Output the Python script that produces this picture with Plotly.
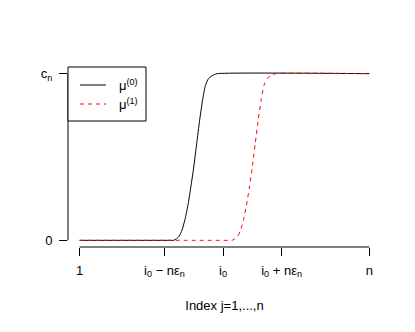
import plotly.graph_objects as go

# ---- data (c_n normalised to 1, n = 100) ----
idx0 = [1, 32, 33, 34, 35, 36, 37, 38, 39, 40, 41, 42, 43, 44, 45, 46, 47, 48, 100]
mu0 = [0, 0, 0.0, 0.008, 0.025, 0.062, 0.125, 0.21, 0.32, 0.44, 0.58, 0.72, 0.84, 0.93, 0.97, 0.985, 0.994, 1, 1]
idx1 = [1, 52, 53, 54, 55, 56, 57, 58, 59, 60, 61, 62, 63, 64, 65, 66, 67, 68, 100]
mu1 = [0, 0, 0.0, 0.008, 0.025, 0.062, 0.125, 0.21, 0.32, 0.44, 0.58, 0.72, 0.84, 0.93, 0.97, 0.985, 0.994, 1, 1]

x_tickvals = [1, 30, 50, 70, 100]
x_ticktext = ["1", "i<sub>0</sub> \u2212 n\u03b5<sub>n</sub>", "i<sub>0</sub>",
              "i<sub>0</sub> + n\u03b5<sub>n</sub>", "n"]
y_tickvals = [0, 1]
y_ticktext = ["0", "c<sub>n</sub>"]
x_title = "Index j=1,...,n"
legend_labels = ["\u03bc<sup>(0)</sup>", "\u03bc<sup>(1)</sup>"]

FONT = "Liberation Sans, Arial, sans-serif"

fig = go.Figure()
fig.add_trace(go.Scatter(x=idx0, y=mu0, mode="lines", line_shape="spline",
                         line=dict(color="black", width=1, smoothing=0.6), showlegend=False))
fig.add_trace(go.Scatter(x=idx1, y=mu1, mode="lines", line_shape="spline",
                         line=dict(color="red", width=1, dash="4px,4px", smoothing=0.6),
                         showlegend=False))

xmin, xmax = x_tickvals[0], x_tickvals[-1]
xr = [xmin - 0.04 * (xmax - xmin), xmax + 0.04 * (xmax - xmin)]
yr = [-0.04, 1.04]

fig.update_layout(
    width=415, height=332,
    margin=dict(l=68, r=34, t=67, b=85, autoexpand=False),
    paper_bgcolor="white", plot_bgcolor="white",
    font=dict(family=FONT, size=13, color="black"),
    xaxis=dict(range=xr, tickvals=x_tickvals, ticktext=x_ticktext,
               ticks="outside", ticklen=8, tickcolor="black", tickwidth=1,
               ticklabelstandoff=3,
               showgrid=False, zeroline=False, showline=False, automargin=False,
               tickfont=dict(size=13),
               title=dict(text=x_title, font=dict(size=13), standoff=22)),
    yaxis=dict(range=yr, tickvals=y_tickvals, ticktext=y_ticktext,
               ticks="outside", ticklen=8, tickcolor="black", tickwidth=1,
               ticklabelstandoff=4,
               showgrid=False, zeroline=False, showline=False, automargin=False,
               tickfont=dict(size=13)),
)

# axis lines spanning only between the extreme ticks (R style)
fig.add_shape(type="line", xref="x", yref="paper", x0=xmin, x1=xmax, y0=0, y1=0,
              line=dict(color="black", width=1))
fig.add_shape(type="line", xref="paper", yref="y", x0=0, x1=0, y0=0, y1=1,
              line=dict(color="black", width=1))

# legend box (R-style, top-left of plot region)
fig.add_shape(type="rect", xref="paper", yref="paper",
              x0=0, x1=(146 - 68) / 313, y0=1 - (121 - 67) / 180, y1=1,
              line=dict(color="black", width=1), fillcolor="white")
for i, (col, dash) in enumerate([("black", "solid"), ("red", "4px,4px")]):
    yy = 1 - ((85 + 19 * i) - 67) / 180
    fig.add_shape(type="line", xref="paper", yref="paper",
                  x0=(80 - 68) / 313, x1=(106 - 68) / 313, y0=yy, y1=yy,
                  line=dict(color=col, width=1, dash=dash))
    fig.add_annotation(xref="paper", yref="paper", x=(117 - 68) / 313, y=yy,
                       text=legend_labels[i], showarrow=False,
                       xanchor="left", yanchor="middle",
                       font=dict(family=FONT, size=13, color="black"))

fig.write_html("out.html", config={"displayModeBar": False},
               post_script="document.body.style.margin='0px';")
